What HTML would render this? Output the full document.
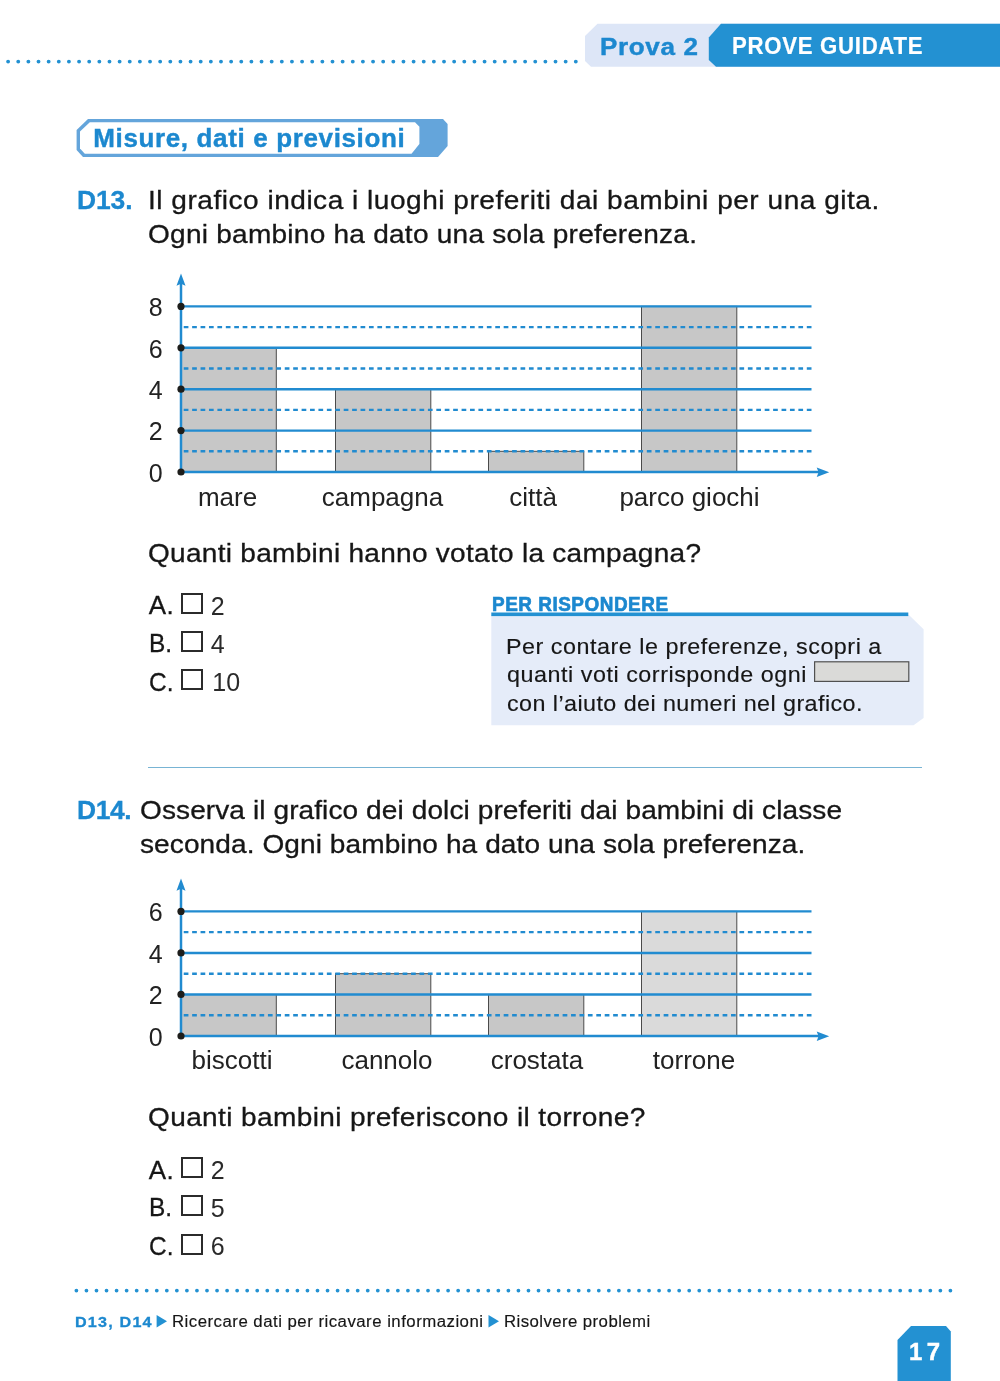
<!DOCTYPE html>
<html lang="it">
<head>
<meta charset="utf-8">
<title>Prova 2 - Prove guidate</title>
<style>
html,body{margin:0;padding:0;background:#fff;}
body{width:1000px;height:1381px;position:relative;overflow:hidden;font-family:"Liberation Sans",sans-serif;color:#161616;}
.t{position:absolute;white-space:nowrap;line-height:40px;height:40px;transform-origin:0 50%;}
.b{font-weight:700;}
.blue{color:#1c88cf;}
.light{color:#2a2a2a;}
svg{position:absolute;left:0;top:0;}
.num{font-family:"Liberation Sans",sans-serif;font-size:25px;fill:#222;}
.lab{font-family:"Liberation Sans",sans-serif;font-size:26px;fill:#222;}
.box{position:absolute;width:17.6px;height:17px;border:2px solid #2b2b2b;}
</style>
</head>
<body>
<svg width="1000" height="1381" viewBox="0 0 1000 1381">
<!-- header -->
<g stroke="#2391d2" fill="none"><line x1="8.1" y1="61.6" x2="575.81" y2="61.6" stroke-width="3.9" stroke-linecap="round" stroke-dasharray="0 10.1375"/></g>
<path d="M597.5 23.8 L1000 23.8 L1000 66.8 L591 66.8 L585 61 L585 36 Z" fill="#dde6f7"/>
<path d="M721 23.8 L1000 23.8 L1000 66.8 L716 66.8 L708.8 60 L708.8 37.5 Z" fill="#2391d2"/>
<!-- section label -->
<path d="M88 119 L443 119 L447.6 124 L447.6 146 L438 157 L83 157 L76.6 150 L76.6 130 Z" fill="#64a5db"/>
<path d="M89.8 122.3 L415 122.3 L419.4 126.8 L419.4 144 L411.5 153.8 L84.8 153.8 L80 148.6 L80 131.4 Z" fill="#fff"/>
<!-- charts -->
<rect x="181" y="347.80" width="95.3" height="124.20" fill="#c7c7c7" stroke="#4a4a4a" stroke-width="1"/>
<rect x="335.5" y="389.20" width="95.3" height="82.80" fill="#c7c7c7" stroke="#4a4a4a" stroke-width="1"/>
<rect x="488.5" y="451.30" width="95.3" height="20.70" fill="#c7c7c7" stroke="#4a4a4a" stroke-width="1"/>
<rect x="641.5" y="306.40" width="95.3" height="165.60" fill="#c7c7c7" stroke="#4a4a4a" stroke-width="1"/>
<line x1="811.5" y1="451.30" x2="183" y2="451.30" stroke="#218bd0" stroke-width="2.4" stroke-dasharray="4.7 3.72"/>
<line x1="181" y1="430.60" x2="811.5" y2="430.60" stroke="#218bd0" stroke-width="2.4"/>
<line x1="811.5" y1="409.90" x2="183" y2="409.90" stroke="#218bd0" stroke-width="2.4" stroke-dasharray="4.7 3.72"/>
<line x1="181" y1="389.20" x2="811.5" y2="389.20" stroke="#218bd0" stroke-width="2.4"/>
<line x1="811.5" y1="368.50" x2="183" y2="368.50" stroke="#218bd0" stroke-width="2.4" stroke-dasharray="4.7 3.72"/>
<line x1="181" y1="347.80" x2="811.5" y2="347.80" stroke="#218bd0" stroke-width="2.4"/>
<line x1="811.5" y1="327.10" x2="183" y2="327.10" stroke="#218bd0" stroke-width="2.4" stroke-dasharray="4.7 3.72"/>
<line x1="181" y1="306.40" x2="811.5" y2="306.40" stroke="#218bd0" stroke-width="2.4"/>
<line x1="181" y1="473" x2="181" y2="281.5" stroke="#218bd0" stroke-width="2.5"/>
<path d="M181 273.50 L185.5 285.80 L181 283.80 L176.5 285.80 Z" fill="#218bd0"/>
<line x1="180" y1="472" x2="820" y2="472" stroke="#218bd0" stroke-width="2.5"/>
<path d="M829.2 472.2 L816.7 467.5 L818.6 472.2 L816.7 476.9 Z" fill="#218bd0"/>
<circle cx="181" cy="472.00" r="3.6" fill="#1d1d1b"/>
<text x="155.6" y="481.80" text-anchor="middle" class="num">0</text>
<circle cx="181" cy="430.60" r="3.6" fill="#1d1d1b"/>
<text x="155.6" y="440.40" text-anchor="middle" class="num">2</text>
<circle cx="181" cy="389.20" r="3.6" fill="#1d1d1b"/>
<text x="155.6" y="399.00" text-anchor="middle" class="num">4</text>
<circle cx="181" cy="347.80" r="3.6" fill="#1d1d1b"/>
<text x="155.6" y="357.60" text-anchor="middle" class="num">6</text>
<circle cx="181" cy="306.40" r="3.6" fill="#1d1d1b"/>
<text x="155.6" y="316.20" text-anchor="middle" class="num">8</text>
<text x="227.5" y="505.6" text-anchor="middle" class="lab">mare</text>
<text x="382.5" y="505.6" text-anchor="middle" class="lab">campagna</text>
<text x="533" y="505.6" text-anchor="middle" class="lab">città</text>
<text x="689.5" y="505.6" text-anchor="middle" class="lab">parco giochi</text>
<rect x="181" y="994.47" width="95.3" height="41.53" fill="#c7c7c7" stroke="#4a4a4a" stroke-width="1"/>
<rect x="335.5" y="973.70" width="95.3" height="62.30" fill="#c7c7c7" stroke="#4a4a4a" stroke-width="1"/>
<rect x="488.5" y="994.47" width="95.3" height="41.53" fill="#c7c7c7" stroke="#4a4a4a" stroke-width="1"/>
<rect x="641.5" y="911.40" width="95.3" height="124.60" fill="#dadada" stroke="#4a4a4a" stroke-width="1"/>
<line x1="811.5" y1="1015.23" x2="183" y2="1015.23" stroke="#218bd0" stroke-width="2.4" stroke-dasharray="4.7 3.72"/>
<line x1="181" y1="994.47" x2="811.5" y2="994.47" stroke="#218bd0" stroke-width="2.4"/>
<line x1="811.5" y1="973.70" x2="183" y2="973.70" stroke="#218bd0" stroke-width="2.4" stroke-dasharray="4.7 3.72"/>
<line x1="181" y1="952.93" x2="811.5" y2="952.93" stroke="#218bd0" stroke-width="2.4"/>
<line x1="811.5" y1="932.17" x2="183" y2="932.17" stroke="#218bd0" stroke-width="2.4" stroke-dasharray="4.7 3.72"/>
<line x1="181" y1="911.40" x2="811.5" y2="911.40" stroke="#218bd0" stroke-width="2.4"/>
<line x1="181" y1="1037" x2="181" y2="886.5" stroke="#218bd0" stroke-width="2.5"/>
<path d="M181 878.50 L185.5 890.80 L181 888.80 L176.5 890.80 Z" fill="#218bd0"/>
<line x1="180" y1="1036" x2="820" y2="1036" stroke="#218bd0" stroke-width="2.5"/>
<path d="M829.2 1036.2 L816.7 1031.5 L818.6 1036.2 L816.7 1040.9 Z" fill="#218bd0"/>
<circle cx="181" cy="1036.00" r="3.6" fill="#1d1d1b"/>
<text x="155.6" y="1045.80" text-anchor="middle" class="num">0</text>
<circle cx="181" cy="994.47" r="3.6" fill="#1d1d1b"/>
<text x="155.6" y="1004.27" text-anchor="middle" class="num">2</text>
<circle cx="181" cy="952.93" r="3.6" fill="#1d1d1b"/>
<text x="155.6" y="962.73" text-anchor="middle" class="num">4</text>
<circle cx="181" cy="911.40" r="3.6" fill="#1d1d1b"/>
<text x="155.6" y="921.20" text-anchor="middle" class="num">6</text>
<text x="232" y="1069" text-anchor="middle" class="lab">biscotti</text>
<text x="387" y="1069" text-anchor="middle" class="lab">cannolo</text>
<text x="537" y="1069" text-anchor="middle" class="lab">crostata</text>
<text x="694" y="1069" text-anchor="middle" class="lab">torrone</text>
<!-- per rispondere -->
<path d="M491.3 615 L909 615 L923.6 629.3 L923.6 718 L913.6 725.3 L491.3 725.3 Z" fill="#e5ecf9"/>
<rect x="491.3" y="612.5" width="417" height="3.6" fill="#2391d2"/>
<rect x="814.6" y="661.8" width="94.2" height="19.6" fill="#dadad8" stroke="#505050" stroke-width="1.2"/>
<!-- divider -->
<rect x="148" y="767" width="774" height="1" fill="#78b4d4"/>
<!-- footer -->
<g stroke="#2391d2" fill="none"><line x1="76.4" y1="1290.6" x2="950.41" y2="1290.6" stroke-width="3.8" stroke-linecap="round" stroke-dasharray="0 10.0460"/></g>
<path d="M156.6 1315 L167 1321.3 L156.6 1327.6 Z" fill="#2391d2"/>
<path d="M488.5 1315 L499 1321.3 L488.5 1327.6 Z" fill="#2391d2"/>
<path d="M911 1326 L946 1326 L950.8 1331.6 L950.8 1381 L897.5 1381 L897.5 1340 Z" fill="#2391d2"/>
</svg>
<header>
<div class="t b blue" style="left:600.25px;top:26.79px;font-size:23.7px;letter-spacing:0.583px;transform:scaleX(1.1);-webkit-text-stroke:0.4px currentColor;">Prova 2</div>
<div class="t b" style="left:732.25px;top:26.42px;font-size:23.6px;letter-spacing:0.757px;transform:scaleX(0.94);-webkit-text-stroke:0.2px currentColor;color:#fff;">PROVE GUIDATE</div>
</header>
<main>
<div class="t b blue" style="left:93.25px;top:117.99px;font-size:26px;letter-spacing:0.637px;transform:scaleX(1.0);-webkit-text-stroke:0.4px currentColor;">Misure, dati e previsioni</div>
<div class="t b blue" style="left:77.25px;top:180.02px;font-size:25.2px;letter-spacing:-0.121px;transform:scaleX(1.05);-webkit-text-stroke:0.3px currentColor;">D13.</div>
<div class="t " style="left:147.55px;top:179.91px;font-size:25.5px;letter-spacing:0.464px;transform:scaleX(1.1);-webkit-text-stroke:0.3px currentColor;">Il grafico indica i luoghi preferiti dai bambini per una gita.</div>
<div class="t " style="left:147.75px;top:213.66px;font-size:25.5px;letter-spacing:0.214px;transform:scaleX(1.1);-webkit-text-stroke:0.3px currentColor;">Ogni bambino ha dato una sola preferenza.</div>
<div class="t " style="left:147.75px;top:533.16px;font-size:25.5px;letter-spacing:0.241px;transform:scaleX(1.1);-webkit-text-stroke:0.3px currentColor;">Quanti bambini hanno votato la campagna?</div>
<div class="t " style="left:148.75px;top:585.49px;font-size:26px;letter-spacing:0.422px;transform:scaleX(1.0);-webkit-text-stroke:0.3px currentColor;">A.</div>
<div class="box" style="left:181px;top:593.00px"></div>
<div class="t light" style="left:210.75px;top:585.84px;font-size:25px;letter-spacing:0.000px;transform:scaleX(1.0);">2</div>
<div class="t " style="left:148.75px;top:623.49px;font-size:26px;letter-spacing:0.000px;transform:scaleX(0.94);-webkit-text-stroke:0.3px currentColor;">B.</div>
<div class="box" style="left:181px;top:631.00px"></div>
<div class="t light" style="left:210.75px;top:623.84px;font-size:25px;letter-spacing:0.000px;transform:scaleX(1.0);">4</div>
<div class="t " style="left:148.75px;top:661.74px;font-size:26px;letter-spacing:0.000px;transform:scaleX(0.94);-webkit-text-stroke:0.3px currentColor;">C.</div>
<div class="box" style="left:181px;top:669.25px"></div>
<div class="t light" style="left:212.25px;top:662.09px;font-size:25px;letter-spacing:0.000px;transform:scaleX(1.0);">10</div>
<div class="t b blue" style="left:492.25px;top:583.72px;font-size:21px;letter-spacing:0.591px;transform:scaleX(0.9);-webkit-text-stroke:0.7px currentColor;">PER RISPONDERE</div>
<div class="t " style="left:506.45px;top:626.82px;font-size:21.6px;letter-spacing:0.477px;transform:scaleX(1.08);-webkit-text-stroke:0.15px currentColor;">Per contare le preferenze, scopri a</div>
<div class="t " style="left:507.25px;top:654.82px;font-size:21.6px;letter-spacing:0.490px;transform:scaleX(1.08);-webkit-text-stroke:0.15px currentColor;">quanti voti corrisponde ogni</div>
<div class="t " style="left:507.25px;top:683.72px;font-size:21.6px;letter-spacing:0.396px;transform:scaleX(1.08);-webkit-text-stroke:0.15px currentColor;">con l’aiuto dei numeri nel grafico.</div>
<div class="t b blue" style="left:77.25px;top:790.02px;font-size:25.2px;letter-spacing:-0.438px;transform:scaleX(1.05);-webkit-text-stroke:0.3px currentColor;">D14.</div>
<div class="t " style="left:140.25px;top:789.91px;font-size:25.5px;letter-spacing:0.079px;transform:scaleX(1.1);-webkit-text-stroke:0.3px currentColor;">Osserva il grafico dei dolci preferiti dai bambini di classe</div>
<div class="t " style="left:139.75px;top:824.16px;font-size:25.5px;letter-spacing:0.076px;transform:scaleX(1.1);-webkit-text-stroke:0.3px currentColor;">seconda. Ogni bambino ha dato una sola preferenza.</div>
<div class="t " style="left:147.75px;top:1097.41px;font-size:25.5px;letter-spacing:0.334px;transform:scaleX(1.1);-webkit-text-stroke:0.3px currentColor;">Quanti bambini preferiscono il torrone?</div>
<div class="t " style="left:148.75px;top:1149.74px;font-size:26px;letter-spacing:0.422px;transform:scaleX(1.0);-webkit-text-stroke:0.3px currentColor;">A.</div>
<div class="box" style="left:181px;top:1157.25px"></div>
<div class="t light" style="left:210.75px;top:1150.09px;font-size:25px;letter-spacing:0.000px;transform:scaleX(1.0);">2</div>
<div class="t " style="left:148.75px;top:1187.49px;font-size:26px;letter-spacing:0.000px;transform:scaleX(0.94);-webkit-text-stroke:0.3px currentColor;">B.</div>
<div class="box" style="left:181px;top:1195.00px"></div>
<div class="t light" style="left:210.75px;top:1187.84px;font-size:25px;letter-spacing:0.000px;transform:scaleX(1.0);">5</div>
<div class="t " style="left:148.75px;top:1225.99px;font-size:26px;letter-spacing:0.000px;transform:scaleX(0.94);-webkit-text-stroke:0.3px currentColor;">C.</div>
<div class="box" style="left:181px;top:1233.50px"></div>
<div class="t light" style="left:210.75px;top:1226.34px;font-size:25px;letter-spacing:0.000px;transform:scaleX(1.0);">6</div>
</main>
<footer>
<div class="t b blue" style="left:74.50px;top:1301.91px;font-size:14.7px;letter-spacing:1.082px;transform:scaleX(1.1);-webkit-text-stroke:0.3px currentColor;">D13, D14</div>
<div class="t " style="left:172.00px;top:1302.46px;font-size:16px;letter-spacing:0.458px;transform:scaleX(1.05);-webkit-text-stroke:0.15px currentColor;">Ricercare dati per ricavare informazioni</div>
<div class="t " style="left:503.90px;top:1302.46px;font-size:16px;letter-spacing:0.396px;transform:scaleX(1.05);-webkit-text-stroke:0.15px currentColor;">Risolvere problemi</div>
<div class="t b" style="left:908.75px;top:1331.86px;font-size:23.5px;letter-spacing:4.252px;transform:scaleX(1.02);-webkit-text-stroke:0.4px currentColor;color:#fff;">17</div>
</footer>
</body>
</html>
